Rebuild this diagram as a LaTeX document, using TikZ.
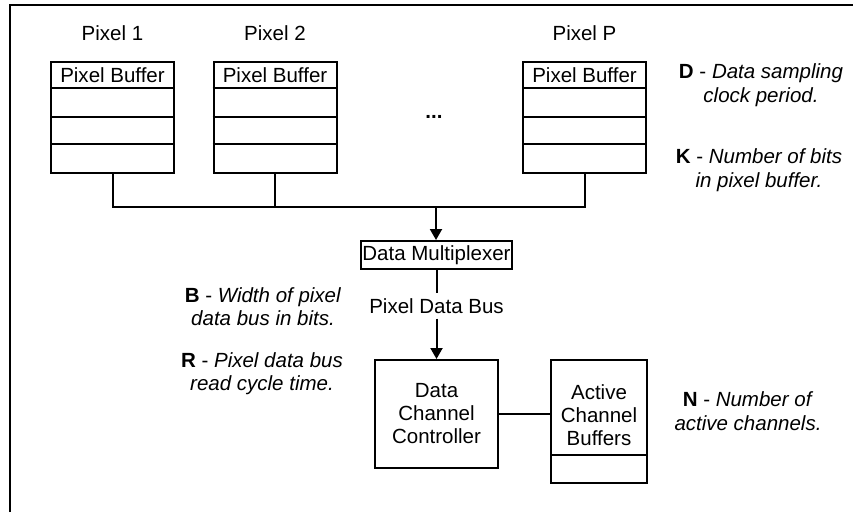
\documentclass[tikz,border=0pt]{standalone}
\usepackage{fontspec}
\setmainfont{Liberation Sans}
\usetikzlibrary{arrows.meta}
\begin{document}
\begin{tikzpicture}[x=1pt,y=-1pt, line width=2pt,
  box/.style={draw, rectangle, inner sep=0pt},
  lbl/.style={font=\fontsize{20.5}{23}\selectfont, inner sep=0pt, align=center},
  note/.style={font=\fontsize{20.5}{23.5}\selectfont, inner sep=0pt, align=center},
  arr/.style={-{Triangle[length=11pt,width=12pt]}}]
\useasboundingbox (0,0) rectangle (853,512);
\draw (10,512) -- (10,5) -- (853,5);
% pixel buffers
\foreach \n/\cx in {1/112.5, 2/275, P/584.5}{
  \node[box, minimum width=123pt, minimum height=111pt] (pb\n) at (\cx,117.5) {};
  \node[lbl] (pbt\n) at (\cx,75.5) {Pixel Buffer};
  \node[lbl] (px\n) at (\cx,33) {Pixel \n};
  \foreach \d in {27,56,83}{
    \draw ([yshift=-\d pt]pb\n.north west) -- ([yshift=-\d pt]pb\n.north east);
  }
}
\node[lbl] (dots) at (434,117) {\textbf{...}};
% bus
\coordinate (bus) at (436,207);
\draw (pb1.south) -- (pb1.south |- bus) -- (pbP.south |- bus) -- (pbP.south);
\draw (pb2.south) -- (pb2.south |- bus);
\node[box, minimum width=151pt, minimum height=28pt, lbl] (mux) at (436.5,255) {Data Multiplexer};
\draw[arr] (bus) -- (bus |- mux.north);
\node[lbl, inner sep=4pt] (pdb) at (436.5,306) {Pixel Data Bus};
\draw (mux.south) -- (pdb.north);
\node[box, minimum width=123pt, minimum height=108pt, lbl] (dcc) at (436.5,414) {Data\\Channel\\Controller};
\draw[arr] (pdb.south) -- (dcc.north);
\node[box, minimum width=96pt, minimum height=123pt] (acb) at (599,421.5) {};
\node[lbl] (acbt) at (599,415) {Active\\Channel\\Buffers};
\draw ([yshift=29pt]acb.south west) -- ([yshift=29pt]acb.south east);
\draw (dcc.east) -- (dcc.east -| acb.west);
% notes
\node[note] (nd) at (761,85) {\textbf{D} - \textit{Data sampling}\\\textit{clock period.}};
\node[note] (nk) at (759,170) {\textbf{K} - \textit{Number of bits}\\\textit{in pixel buffer.}};
\node[note] (nb) at (263,306.5) {\textbf{B} - \textit{Width of pixel}\\\textit{data bus in bits.}};
\node[note] (nr) at (262,373.5) {\textbf{R} - \textit{Pixel data bus}\\\textit{read cycle time.}};
\node[note] (nn) at (748,411) {\textbf{N} - \textit{Number of}\\\textit{active channels.}};
\end{tikzpicture}
\end{document}
